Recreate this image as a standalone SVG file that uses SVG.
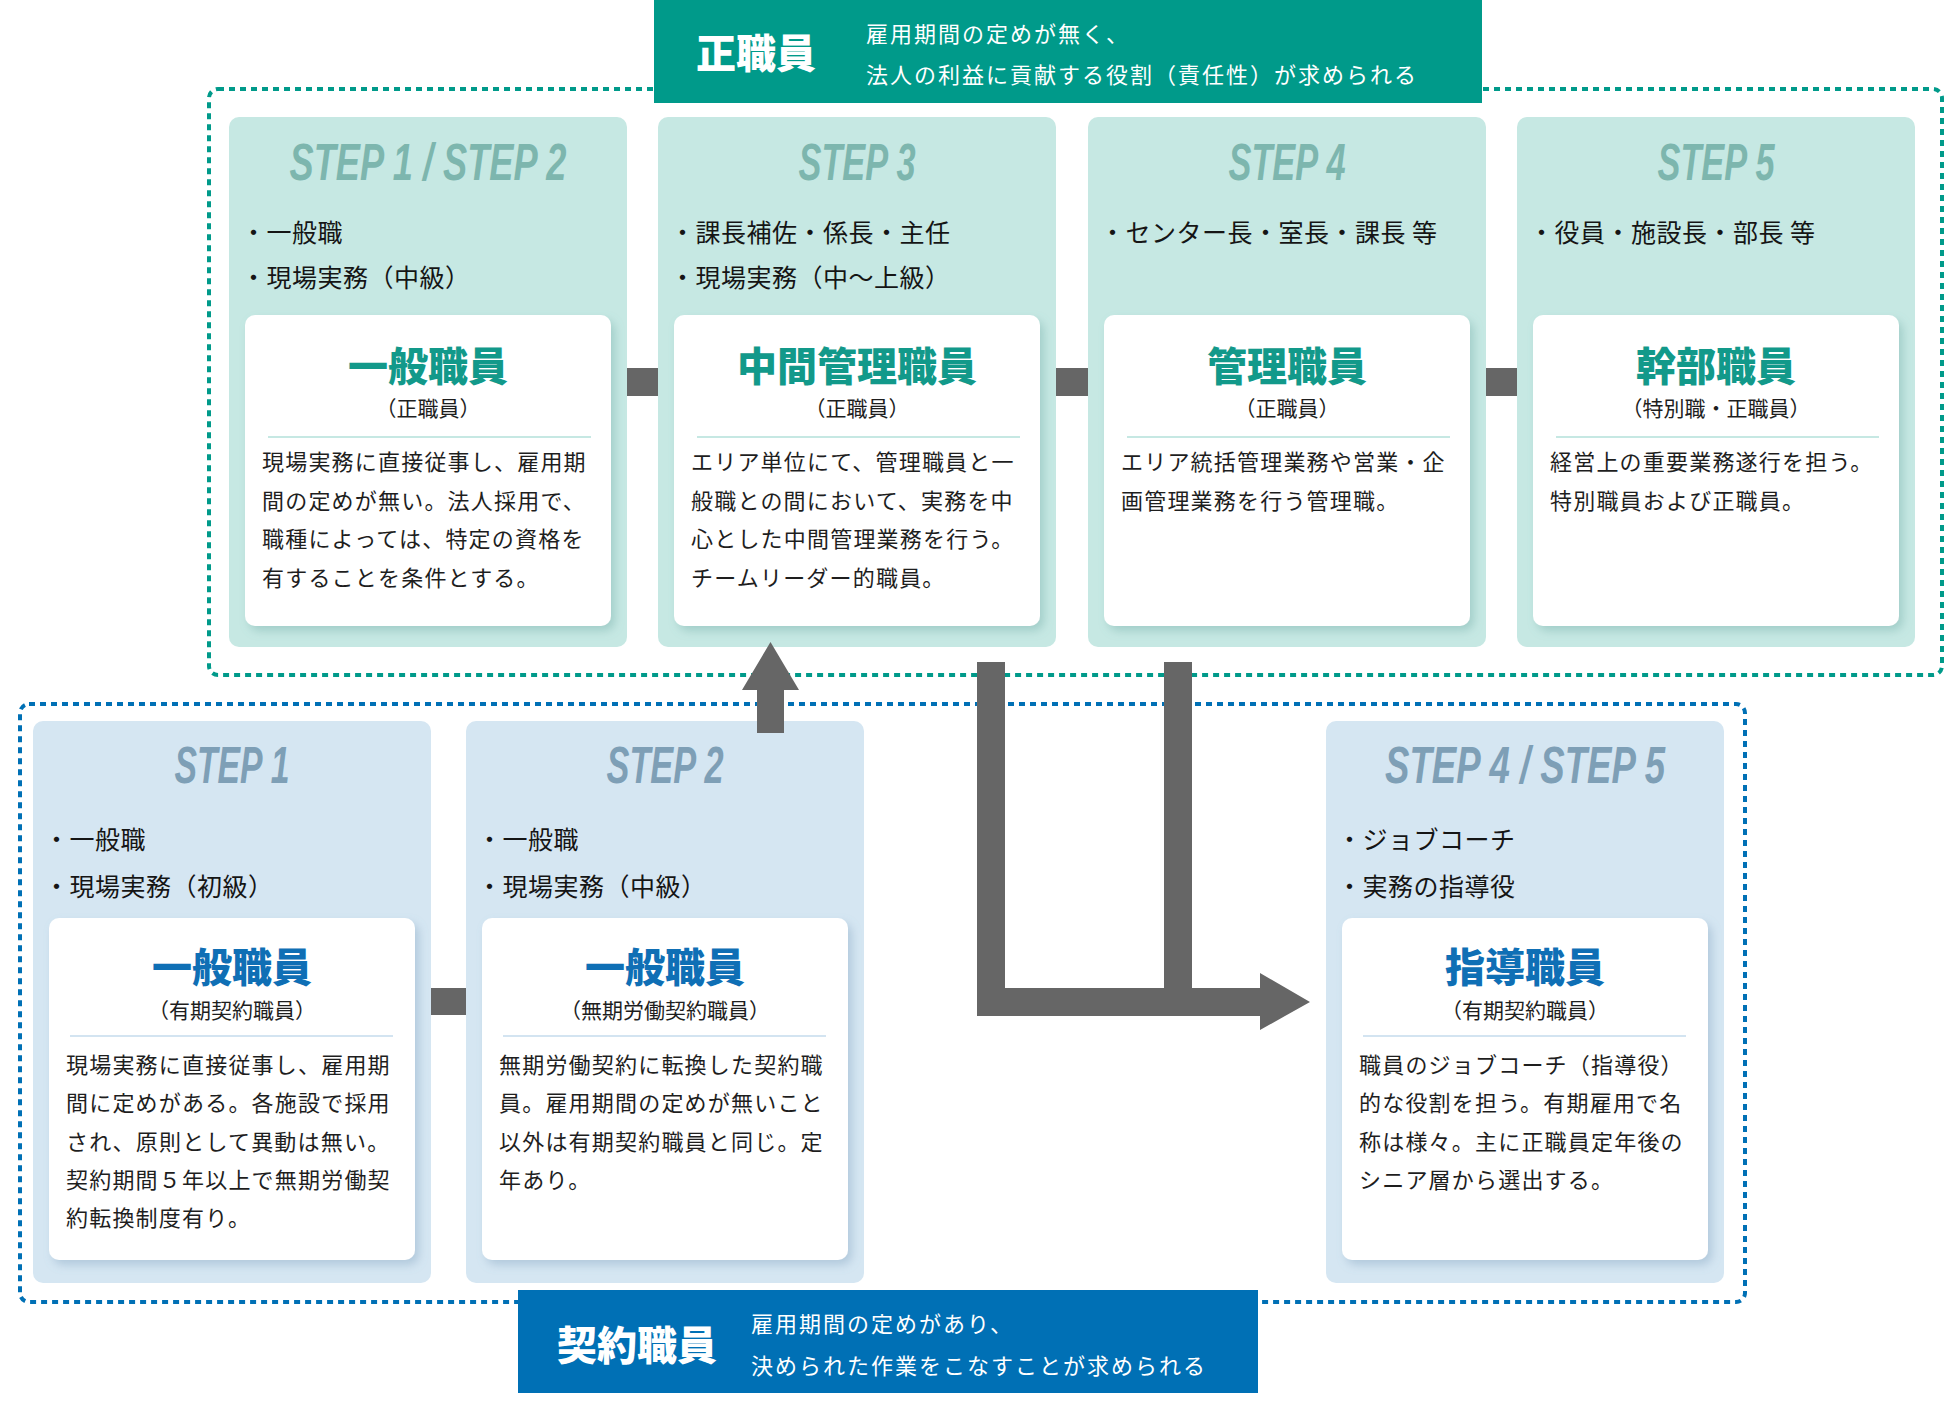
<svg xmlns="http://www.w3.org/2000/svg" width="1954" height="1406" viewBox="0 0 1954 1406">
<defs>
<style>
.jp{font-family:"Noto Sans CJK JP","Noto Sans",sans-serif}
.step{font-family:"Liberation Sans",Arial,sans-serif;font-weight:bold;font-style:italic;font-size:51px;text-anchor:middle}
.st-t{fill:#7DB6AE}
.st-b{fill:#7E9FB6}
.card-t{fill:#C6E8E3}
.card-b{fill:#D5E6F2}
.inner{fill:#FFFFFF}
.bul{font-size:25px;fill:#151515;letter-spacing:0.5px}
.ttl{font-size:40px;font-weight:900;text-anchor:middle}
.ttl-t{fill:#12998A}
.ttl-b{fill:#0F6FB5}
.sub{font-size:21px;fill:#1E1E1E;text-anchor:middle}
.body{font-size:22px;fill:#1E1E1E;letter-spacing:1.2px}
.div-t{stroke:#C6E8E3;stroke-width:2}
.div-b{stroke:#D3E4F1;stroke-width:2}
.conn{fill:#666666}
.hdr-title{font-size:40px;font-weight:900;fill:#FFFFFF;text-anchor:middle}
.hdr-line{font-size:22px;fill:#FFFFFF;letter-spacing:2px}
</style>
<filter id="shT" x="-10%" y="-10%" width="130%" height="130%">
<feDropShadow dx="4" dy="5" stdDeviation="5" flood-color="#5E9E97" flood-opacity="0.35"/>
</filter>
<filter id="shB" x="-10%" y="-10%" width="130%" height="130%">
<feDropShadow dx="4" dy="5" stdDeviation="5" flood-color="#6E93B3" flood-opacity="0.35"/>
</filter>
</defs>
<rect width="1954" height="1406" fill="#FFFFFF"/>

<g id="groups">
<rect id="seishain-frame" x="209" y="89" width="1733" height="586" rx="9" fill="none" stroke="#009A8A" stroke-width="4" stroke-dasharray="6 5"/>
<rect id="keiyaku-frame" x="20" y="704" width="1725" height="598" rx="9" fill="none" stroke="#0070B5" stroke-width="4" stroke-dasharray="6 5"/>
</g>

<g id="header-seishain">
<rect x="654" y="0" width="828" height="103" fill="#009A8A"/>
<text class="jp hdr-title" x="756" y="68">正職員</text>
<text class="jp hdr-line" x="866" y="42">雇用期間の定めが無く、</text>
<text class="jp hdr-line" x="866" y="83">法人の利益に貢献する役割（責任性）が求められる</text>
</g>

<g id="header-keiyaku">
<rect x="518" y="1290" width="740" height="103" fill="#0070B5"/>
<text class="jp hdr-title" x="637" y="1360">契約職員</text>
<text class="jp hdr-line" x="751" y="1332">雇用期間の定めがあり、</text>
<text class="jp hdr-line" x="751" y="1374">決められた作業をこなすことが求められる</text>
</g>

<g id="node-t1">
<rect class="card-t" x="229" y="117" width="398" height="530" rx="10"/>
<text class="step st-t" x="428" y="180" textLength="277" lengthAdjust="spacingAndGlyphs">STEP 1 / STEP 2</text>
<text class="jp bul" x="241" y="242">・一般職</text>
<text class="jp bul" x="241" y="287">・現場実務（中級）</text>
<rect class="inner" x="245" y="315" width="366" height="311" rx="10" filter="url(#shT)"/>
<text class="jp ttl ttl-t" x="428" y="381">一般職員</text>
<text class="jp sub" x="428" y="416">（正職員）</text>
<line class="div-t" x1="268" y1="437" x2="591" y2="437"/>
<text class="jp body" x="262" y="470">現場実務に直接従事し、雇用期</text>
<text class="jp body" x="262" y="508.5">間の定めが無い。法人採用で、</text>
<text class="jp body" x="262" y="547">職種によっては、特定の資格を</text>
<text class="jp body" x="262" y="585.5">有することを条件とする。</text>
</g>

<g id="node-t2">
<rect class="card-t" x="658" y="117" width="398" height="530" rx="10"/>
<text class="step st-t" x="857" y="180" textLength="117" lengthAdjust="spacingAndGlyphs">STEP 3</text>
<text class="jp bul" x="670" y="242">・課長補佐・係長・主任</text>
<text class="jp bul" x="670" y="287">・現場実務（中〜上級）</text>
<rect class="inner" x="674" y="315" width="366" height="311" rx="10" filter="url(#shT)"/>
<text class="jp ttl ttl-t" x="857" y="381">中間管理職員</text>
<text class="jp sub" x="857" y="416">（正職員）</text>
<line class="div-t" x1="697" y1="437" x2="1020" y2="437"/>
<text class="jp body" x="691" y="470">エリア単位にて、管理職員と一</text>
<text class="jp body" x="691" y="508.5">般職との間において、実務を中</text>
<text class="jp body" x="691" y="547">心とした中間管理業務を行う。</text>
<text class="jp body" x="691" y="585.5">チームリーダー的職員。</text>
</g>

<g id="node-t3">
<rect class="card-t" x="1088" y="117" width="398" height="530" rx="10"/>
<text class="step st-t" x="1287" y="180" textLength="117" lengthAdjust="spacingAndGlyphs">STEP 4</text>
<text class="jp bul" x="1100" y="242">・センター長・室長・課長 等</text>
<rect class="inner" x="1104" y="315" width="366" height="311" rx="10" filter="url(#shT)"/>
<text class="jp ttl ttl-t" x="1287" y="381">管理職員</text>
<text class="jp sub" x="1287" y="416">（正職員）</text>
<line class="div-t" x1="1127" y1="437" x2="1450" y2="437"/>
<text class="jp body" x="1121" y="470">エリア統括管理業務や営業・企</text>
<text class="jp body" x="1121" y="508.5">画管理業務を行う管理職。</text>
</g>

<g id="node-t4">
<rect class="card-t" x="1517" y="117" width="398" height="530" rx="10"/>
<text class="step st-t" x="1716" y="180" textLength="117" lengthAdjust="spacingAndGlyphs">STEP 5</text>
<text class="jp bul" x="1529" y="242">・役員・施設長・部長 等</text>
<rect class="inner" x="1533" y="315" width="366" height="311" rx="10" filter="url(#shT)"/>
<text class="jp ttl ttl-t" x="1716" y="381">幹部職員</text>
<text class="jp sub" x="1716" y="416">（特別職・正職員）</text>
<line class="div-t" x1="1556" y1="437" x2="1879" y2="437"/>
<text class="jp body" x="1550" y="470">経営上の重要業務遂行を担う。</text>
<text class="jp body" x="1550" y="508.5">特別職員および正職員。</text>
</g>

<g id="node-b1">
<rect class="card-b" x="33" y="721" width="398" height="562" rx="10"/>
<text class="step st-b" x="232" y="783" textLength="115" lengthAdjust="spacingAndGlyphs">STEP 1</text>
<text class="jp bul" x="44" y="849">・一般職</text>
<text class="jp bul" x="44" y="896">・現場実務（初級）</text>
<rect class="inner" x="49" y="918" width="366" height="342" rx="10" filter="url(#shB)"/>
<text class="jp ttl ttl-b" x="232" y="982">一般職員</text>
<text class="jp sub" x="232" y="1018">（有期契約職員）</text>
<line class="div-b" x1="70" y1="1036" x2="393" y2="1036"/>
<text class="jp body" x="66" y="1073">現場実務に直接従事し、雇用期</text>
<text class="jp body" x="66" y="1111.3">間に定めがある。各施設で採用</text>
<text class="jp body" x="66" y="1149.6">され、原則として異動は無い。</text>
<text class="jp body" x="66" y="1187.9">契約期間５年以上で無期労働契</text>
<text class="jp body" x="66" y="1226.2">約転換制度有り。</text>
</g>

<g id="node-b2">
<rect class="card-b" x="466" y="721" width="398" height="562" rx="10"/>
<text class="step st-b" x="665" y="783" textLength="117" lengthAdjust="spacingAndGlyphs">STEP 2</text>
<text class="jp bul" x="477" y="849">・一般職</text>
<text class="jp bul" x="477" y="896">・現場実務（中級）</text>
<rect class="inner" x="482" y="918" width="366" height="342" rx="10" filter="url(#shB)"/>
<text class="jp ttl ttl-b" x="665" y="982">一般職員</text>
<text class="jp sub" x="665" y="1018">（無期労働契約職員）</text>
<line class="div-b" x1="503" y1="1036" x2="826" y2="1036"/>
<text class="jp body" x="499" y="1073">無期労働契約に転換した契約職</text>
<text class="jp body" x="499" y="1111.3">員。雇用期間の定めが無いこと</text>
<text class="jp body" x="499" y="1149.6">以外は有期契約職員と同じ。定</text>
<text class="jp body" x="499" y="1187.9">年あり。</text>
</g>

<g id="node-b3">
<rect class="card-b" x="1326" y="721" width="398" height="562" rx="10"/>
<text class="step st-b" x="1525" y="783" textLength="280" lengthAdjust="spacingAndGlyphs">STEP 4 / STEP 5</text>
<text class="jp bul" x="1337" y="849">・ジョブコーチ</text>
<text class="jp bul" x="1337" y="896">・実務の指導役</text>
<rect class="inner" x="1342" y="918" width="366" height="342" rx="10" filter="url(#shB)"/>
<text class="jp ttl ttl-b" x="1525" y="982">指導職員</text>
<text class="jp sub" x="1525" y="1018">（有期契約職員）</text>
<line class="div-b" x1="1363" y1="1036" x2="1686" y2="1036"/>
<text class="jp body" x="1359" y="1073">職員のジョブコーチ（指導役）</text>
<text class="jp body" x="1359" y="1111.3">的な役割を担う。有期雇用で名</text>
<text class="jp body" x="1359" y="1149.6">称は様々。主に正職員定年後の</text>
<text class="jp body" x="1359" y="1187.9">シニア層から選出する。</text>
</g>

<g id="connectors">
<rect class="conn" x="627" y="368" width="31" height="28"/>
<rect class="conn" x="1056" y="368" width="32" height="28"/>
<rect class="conn" x="1486" y="368" width="31" height="28"/>
<rect class="conn" x="431" y="988" width="35" height="27"/>
<polygon class="conn" points="757,733 784,733 784,690 799,690 770.5,642 742,690 757,690"/>
<polygon class="conn" points="977,662 1005,662 1005,988 1164,988 1164,662 1192,662 1192,988 1260,988 1260,973 1310,1002 1260,1030 1260,1016 977,1016"/>
</g>
</svg>
